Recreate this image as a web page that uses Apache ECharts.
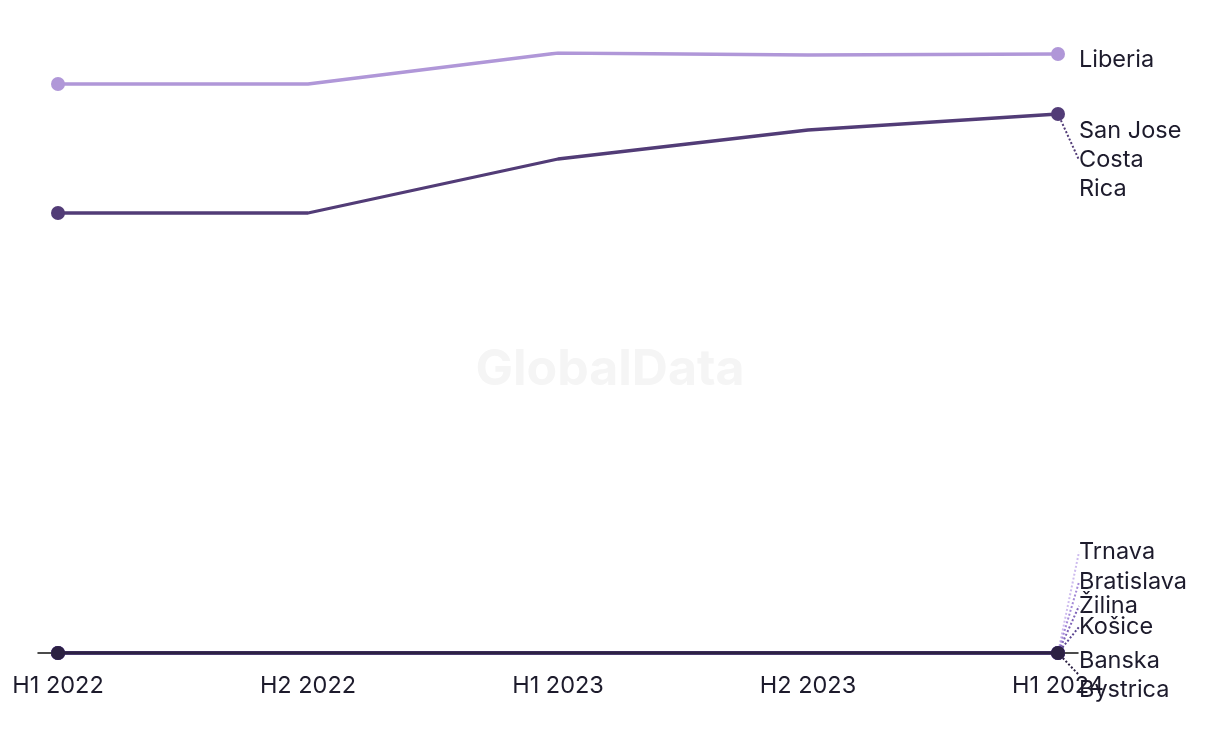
<!DOCTYPE html>
<html>
<head>
<meta charset="utf-8">
<script src="https://cdn.jsdelivr.net/npm/echarts@6/dist/echarts.min.js"></script>
<style>
html,body{margin:0;padding:0;background:#fff;}
#chart{width:1220px;height:744px;}
</style>
</head>
<body>
<div id="chart"></div>
<script>
const categories = ['H1 2022', 'H2 2022', 'H1 2023', 'H2 2023', 'H1 2024'];
const seriesNames = ['Trnava', 'Bratislava', 'Žilina', 'Košice', 'Banska Bystrica', 'San Jose Costa Rica', 'Liberia'];
const labelTexts = ['Trnava', 'Bratislava', 'Žilina', 'Košice', 'Banska\nBystrica', 'San Jose\nCosta\nRica', 'Liberia'];
const trnava = [0, 0, 0, 0, 0];
const bratislava = [0, 0, 0, 0, 0];
const zilina = [0, 0, 0, 0, 0];
const kosice = [0, 0, 0, 0, 0];
const banskaBystrica = [0, 0, 0, 0, 0];
const sanJose = [44.0, 44.0, 49.4, 52.3, 53.9];
const liberia = [56.9, 56.9, 60.0, 59.8, 59.9];

const values = [trnava, bratislava, zilina, kosice, banskaBystrica, sanJose, liberia];
const colors = ['#cdbbee', '#a58ad8', '#7f63b8', '#5a4490', '#2c2143', '#523c77', '#b097d8'];
const labelDy = [-101, -71, -47, -26, 22, 46, 6];

const FONT = 'Inter, "Noto Sans", sans-serif';
const TEXT = '#1d1b2c';
const LAST = categories.length - 1;

const chart = echarts.init(document.getElementById('chart'), null, {renderer: 'canvas'});

const series = seriesNames.map((name, i) => ({
  name: name,
  type: 'line',
  xAxisIndex: 0,
  yAxisIndex: 0,
  data: values[i].map((v, j) => j === LAST ? {
    value: v,
    label: {show: true},
    labelLine: {show: Math.abs(labelDy[i]) > 10, lineStyle: {color: colors[i], type: 'dotted', width: 2}}
  } : v),
  color: colors[i],
  lineStyle: {width: 3.3, color: colors[i]},
  itemStyle: {color: colors[i]},
  symbol: 'circle',
  showAllSymbol: true,
  symbolSize: (v, p) => (p.dataIndex === 0 || p.dataIndex === LAST) ? 14 : 0,
  silent: true,
  animation: false,
  z: 2 + i,
  label: {
    show: false,
    position: 'right',
    distance: 14,
    formatter: () => labelTexts[i],
    color: TEXT,
    fontFamily: FONT,
    fontSize: 23.5,
    lineHeight: 29
  },
  labelLine: {show: false},
  labelLayout: {dy: labelDy[i], hideOverlap: false}
}));

const option = {
  backgroundColor: '#ffffff',
  animation: false,
  graphic: [{
    type: 'text',
    left: 'center',
    top: 345,
    z: -10,
    style: {text: 'GlobalData', fontFamily: 'Inter, sans-serif', fontWeight: 'bold', fontSize: 50, fill: '#f5f5f5'}
  }],
  grid: [
    {left: 58, right: 162, top: 53, bottom: 91},
    {left: 38, right: 142, top: 53, bottom: 91}
  ],
  xAxis: [
    {
      type: 'category',
      gridIndex: 0,
      data: categories,
      boundaryGap: false,
      axisLine: {show: false},
      axisTick: {show: false},
      splitLine: {show: false},
      axisLabel: {color: TEXT, fontFamily: FONT, fontSize: 23.5, margin: 21, interval: 0}
    },
    {
      type: 'value',
      gridIndex: 1,
      min: 0,
      max: 1,
      axisLine: {show: true, lineStyle: {color: '#111111', width: 1.5}},
      axisTick: {show: false},
      axisLabel: {show: false},
      splitLine: {show: false}
    }
  ],
  yAxis: [
    {type: 'value', gridIndex: 0, min: 0, max: 60, show: false, splitLine: {show: false}},
    {type: 'value', gridIndex: 1, min: 0, max: 60, show: false, splitLine: {show: false}}
  ],
  series: series
};
chart.setOption(option);
</script>
</body>
</html>
